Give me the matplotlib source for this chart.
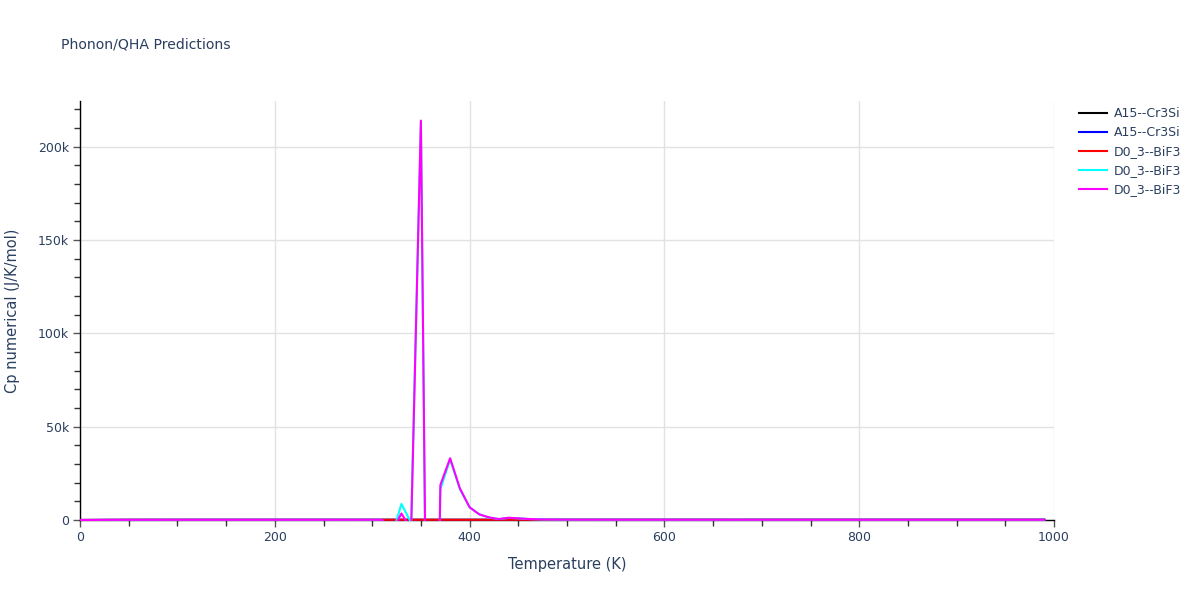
import numpy as np
import matplotlib
matplotlib.use("Agg")
import matplotlib.pyplot as plt
from matplotlib.patches import Rectangle
from matplotlib.ticker import MultipleLocator, FuncFormatter

plt.rcParams['font.family'] = ['DejaVu Sans']

# ---------------- data ----------------
temperature = list(range(0, 1000, 10))

cr3si_a = [0, 3, 17, 37, 54, 66, 74, 80, 84, 87,
           89, 91, 92, 93, 94, 94.6, 95.1, 95.5, 95.9, 96.2,
           96.5, 96.7, 96.9, 97.1, 97.3, 97.4, 97.5, 97.6, 97.7, 97.8,
           97.9, 98.0, 98.1, 98.2, 98.3, 98.4, 98.5, 98.6, 98.7, 98.8,
           98.9, 99.0, 99.1, 99.2, 99.3, 99.4, 99.5, 99.6, 99.7, 99.8,
           99.9, 100.0, 100.1, 100.2, 100.3, 100.4, 100.5, 100.6, 100.7, 100.8,
           100.9, 101.0, 101.1, 101.2, 101.3, 101.4, 101.5, 101.6, 101.7, 101.8,
           101.9, 102.0, 102.1, 102.2, 102.3, 102.4, 102.5, 102.6, 102.7, 102.8,
           102.9, 103.0, 103.1, 103.2, 103.3, 103.4, 103.5, 103.6, 103.7, 103.8,
           103.9, 104.0, 104.1, 104.2, 104.3, 104.4, 104.5, 104.6, 104.7, 104.8]

cr3si_b = [0, 2, 15, 35, 52, 65, 73, 79, 83, 86,
           88.5, 90.5, 91.8, 92.8, 93.7, 94.4, 94.9, 95.3, 95.7, 96.0,
           96.3, 96.6, 96.8, 97.0, 97.2, 97.3, 97.4, 97.5, 97.6, 97.7,
           97.8, 97.9, 98.0, 98.1, 98.2, 98.3, 98.4, 98.5, 98.6, 98.7,
           98.8, 98.9, 99.0, 99.1, 99.2, 99.3, 99.4, 99.5, 99.6, 99.7,
           99.8, 99.9, 100.0, 100.1, 100.2, 100.3, 100.4, 100.5, 100.6, 100.7,
           100.8, 100.9, 101.0, 101.1, 101.2, 101.3, 101.4, 101.5, 101.6, 101.7,
           101.8, 101.9, 102.0, 102.1, 102.2, 102.3, 102.4, 102.5, 102.6, 102.7,
           102.8, 102.9, 103.0, 103.1, 103.2, 103.3, 103.4, 103.5, 103.6, 103.7,
           103.8, 103.9, 104.0, 104.1, 104.2, 104.3, 104.4, 104.5, 104.6, 104.7]

bif3_red = [0, 28, 62, 80, 88, 92, 94.5, 96, 97, 97.6,
            98.1, 98.5, 98.8, 99.1, 99.3, 99.5, 99.7, 99.9, 100.0, 100.1,
            100.2, 100.3, 100.4, 100.5, 100.6, 100.7, 100.8, 100.9, 101.0, 101.1,
            101.2, 101.3, 101.4, 101.5, 101.6, 101.7, 101.8, 101.9, 102.0, 102.1,
            102.2, 102.3, 102.4, 102.5, 102.6, 102.7, 102.8, 102.9, 103.0, 103.1,
            103.2, 103.3, 103.4, 103.5, 103.6, 103.7, 103.8, 103.9, 104.0, 104.1,
            104.2, 104.3, 104.4, 104.5, 104.6, 104.7, 104.8, 104.9, 105.0, 105.1,
            105.2, 105.3, 105.4, 105.5, 105.6, 105.7, 105.8, 105.9, 106.0, 106.1,
            106.2, 106.3, 106.4, 106.5, 106.6, 106.7, 106.8, 106.9, 107.0, 107.1,
            107.2, 107.3, 107.4, 107.5, 107.6, 107.7, 107.8, 107.9, 108.0, 108.1]

bif3_cyan = [0, 27, 61, 79, 87, 91, 94, 95.5, 96.6, 97.3,
             97.9, 98.3, 98.7, 99.0, 99.3, 99.5, 99.7, 99.9, 100.1, 100.3,
             100.5, 100.8, 101.1, 101.5, 102, 103, 104, 106, 109, 114,
             120, 100, -9000, 8600, -1500, 213500, -300000, 16500, 32500, 16500,
             6800, 3000, 1300, 500, 1100, 900, 550, 380, 280, 220,
             190, 170, 160, 150, 145, 140, 136, 133, 130, 128,
             126, 124, 122, 121, 120, 119, 118, 117, 116, 115.5,
             115, 114.5, 114, 113.5, 113, 112.6, 112.2, 111.8, 111.5, 111.2,
             110.9, 110.6, 110.3, 110.0, 109.8, 109.6, 109.4, 109.2, 109.0, 108.8,
             108.6, 108.4, 108.2, 108.0, 107.8, 107.6, 107.4, 107.2, 107.0, 106.8]

bif3_magenta = [0, 27, 61, 79, 87, 91, 94, 95.5, 96.6, 97.3,
                97.9, 98.3, 98.7, 99.0, 99.3, 99.5, 99.7, 99.9, 100.1, 100.3,
                100.5, 100.8, 101.1, 101.5, 102, 103, 104, 106, 109, 114,
                120, 100, -6500, 3500, -5000, 214000, -295000, 18800, 33100, 17000,
                6800, 3000, 1400, 500, 1200, 900, 550, 380, 280, 220,
                190, 170, 160, 150, 145, 140, 136, 133, 130, 128,
                126, 124, 122, 121, 120, 119, 118, 117, 116, 115.5,
                115, 114.5, 114, 113.5, 113, 112.6, 112.2, 111.8, 111.5, 111.2,
                110.9, 110.6, 110.3, 110.0, 109.8, 109.6, 109.4, 109.2, 109.0, 108.8,
                108.6, 108.4, 108.2, 108.0, 107.8, 107.6, 107.4, 107.2, 107.0, 106.8]

series_labels = ["A15--Cr3Si", "A15--Cr3Si", "D0_3--BiF3", "D0_3--BiF3", "D0_3--BiF3"]
series_colors = ["black", "blue", "red", "cyan", "magenta"]
series_values = [cr3si_a, cr3si_b, bif3_red, bif3_cyan, bif3_magenta]

# ---------------- figure ----------------
W, H = 1200, 600
fig = plt.figure(figsize=(W / 100, H / 100), dpi=100)
L, R, T, B = 80, 1054, 101, 520
ax = fig.add_axes([L / W, 1 - B / H, (R - L) / W, (B - T) / H])

text_color = "#2a3f5f"
clip = Rectangle((0, -0.002), 1, 1.01, transform=ax.transAxes, visible=False)
ax.add_patch(clip)

for vals, col, lab in zip(series_values, series_colors, series_labels):
    ln, = ax.plot(temperature, vals, color=col, lw=1.5, label=lab, zorder=3,
                  solid_joinstyle='round')
    ln.set_clip_path(clip)

ax.set_xlim(0, 1000)
ax.set_ylim(0, 224500)

ax.xaxis.set_major_locator(MultipleLocator(200))
ax.xaxis.set_minor_locator(MultipleLocator(50))
ax.yaxis.set_major_locator(MultipleLocator(50000))
ax.yaxis.set_minor_locator(MultipleLocator(10000))
ax.yaxis.set_major_formatter(FuncFormatter(lambda v, p: "0" if v == 0 else f"{int(v/1000)}k"))

ax.grid(True, which='major', color='#e2e2e2', lw=1, zorder=0)
ax.set_axisbelow(True)
for s in ['top', 'right']:
    ax.spines[s].set_visible(False)
for s in ['left', 'bottom']:
    ax.spines[s].set_color('black')
    ax.spines[s].set_linewidth(1)
    ax.spines[s].set_zorder(2)

ax.tick_params(axis='both', which='major', direction='out', length=5, width=1,
               color='#555555', labelsize=9, labelcolor=text_color, pad=3)
ax.tick_params(axis='both', which='minor', direction='out', length=4, width=1,
               color='#333333')

ax.set_xlabel("Temperature (K)", fontsize=10.5, color=text_color, labelpad=9)
ax.set_ylabel("Cp numerical (J/K/mol)", fontsize=10.5, color=text_color, labelpad=13)

fig.text(61 / W, 1 - 45 / H, "Phonon/QHA Predictions", fontsize=10.1,
         color=text_color, va='center', ha='left')

leg = fig.legend(loc='upper left', bbox_to_anchor=(1079 / W, 1 - 107 / H),
                 frameon=False, fontsize=9, handlelength=2.2, handletextpad=0.6,
                 labelspacing=0.48, borderaxespad=0, borderpad=0)
for t in leg.get_texts():
    t.set_color(text_color)

fig.savefig("out.png", dpi=100)
